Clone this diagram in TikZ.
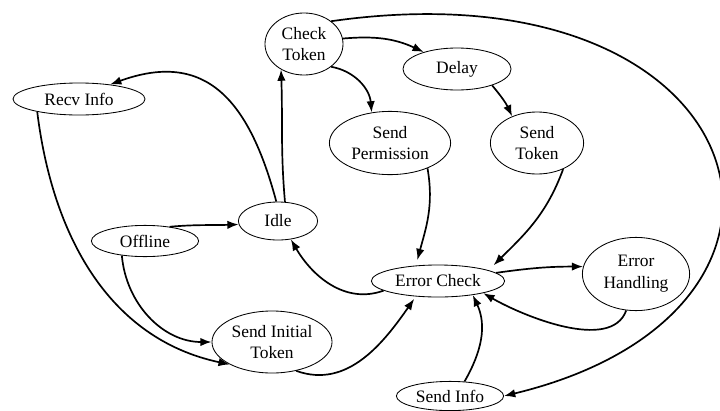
\documentclass[tikz,border=0pt]{standalone}
\usepackage{fontspec}
\setmainfont{Liberation Serif}
\usetikzlibrary{arrows.meta,shapes.geometric}

\begin{document}
\begin{tikzpicture}[x=0.025cm,y=0.025cm,
  state/.style={ellipse,draw,line width=0.6pt,inner sep=0pt,align=center,
    font=\fontsize{12.4}{15.5}\selectfont},
  flow/.style={line width=1.2pt,-{Latex[length=8pt,width=6pt]}}]
\useasboundingbox (0,0) rectangle (720,410);

\node[state,minimum width=1.95cm,minimum height=1.55cm] (ct) at (304,366) {Check\\Token};
\node[state,minimum width=3.3cm,minimum height=0.8cm] (ri) at (79,311) {Recv Info};
\node[state,minimum width=2.7cm,minimum height=1.05cm] (dl) at (457,341) {Delay};
\node[state,minimum width=3.03cm,minimum height=1.58cm] (sp) at (390,267) {Send\\Permission};
\node[state,minimum width=2.33cm,minimum height=1.55cm] (st) at (537,267) {Send\\Token};
\node[state,minimum width=1.98cm,minimum height=0.95cm] (id) at (278,189) {Idle};
\node[state,minimum width=2.68cm,minimum height=0.78cm] (of) at (145,169) {Offline};
\node[state,minimum width=3.0cm,minimum height=1.55cm] (si) at (272,68) {Send Initial\\Token};
\node[state,minimum width=3.33cm,minimum height=0.8cm] (ec) at (438,129) {Error Check};
\node[state,minimum width=2.68cm,minimum height=1.83cm] (eh) at (636,136) {Error\\Handling};
\node[state,minimum width=2.68cm,minimum height=0.73cm] (sn) at (450,14) {Send Info};

\draw[flow] (ct.8) to[out=5,in=155] (dl.153);
\draw[flow] (ct.-40) to[out=-10,in=95] (sp.121);
\draw[flow] (ct.40) .. controls (760,450) and (860,100) .. (sn.east);
\draw[flow] (dl.-25) to[out=-50,in=115] (st.133);

\draw[flow,shorten >=4pt] (sp.-34) to[out=-80,in=75] (ec.145);
\draw[flow,shorten >=5pt] (st.-45) to[out=-110,in=45] (ec.12);
\draw[flow] (ec.8) to[out=8,in=180] (eh.172);
\draw[flow] (eh.-105) to[out=-110,in=-30,looseness=0.8] (ec.-15);
\draw[flow] (sn.45) to[out=60,in=-65] (ec.-22);
\draw[flow] (ec.-170) to[out=200,in=-60] (id.-55);
\draw[flow,shorten >=2pt] (si.-50) to[out=-20,in=-125] (ec.-145);

\draw[flow] (id.70) to[out=95,in=-88] (ct.-132);
\draw[flow] (id.95) to[out=105,in=20,looseness=1.3] (ri.25);
\draw[flow] (ri.-163) to[out=-83,in=168] (si.-152);
\draw[flow] (of.-148) to[out=-85,in=180] (si.west);
\draw[flow] (of.30) to[out=5,in=182] (id.185);

\end{tikzpicture}
\end{document}
